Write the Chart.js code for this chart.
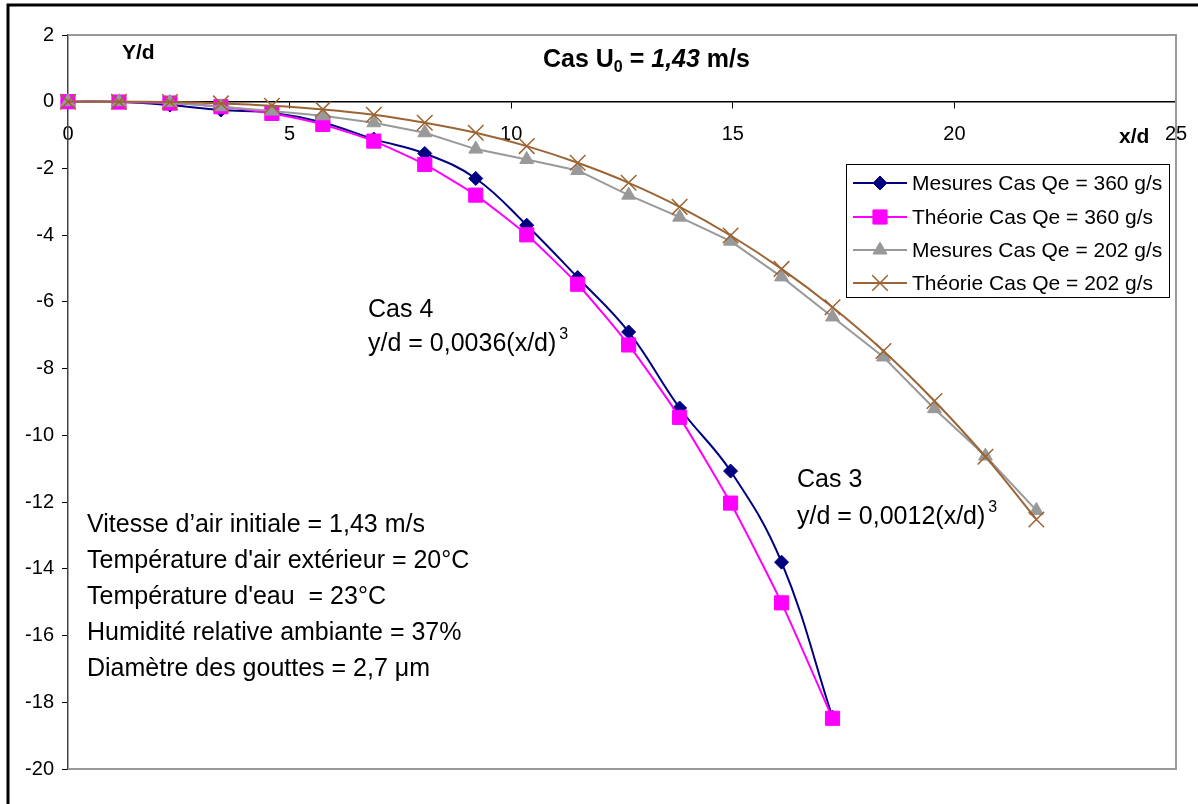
<!DOCTYPE html>
<html>
<head>
<meta charset="utf-8">
<script src="https://cdn.jsdelivr.net/npm/chart.js@4.4.0/dist/chart.umd.min.js"></script>
<style>
body{margin:0;background:#fff;}
canvas{display:block;}
</style>
</head>
<body>
<canvas id="trajChart" width="1198" height="804"></canvas>
<script>

const xPoints360 = [0, 1.15, 2.3, 3.45, 4.6, 5.75, 6.9, 8.05, 9.2, 10.35, 11.5, 12.65, 13.8, 14.95, 16.1, 17.25];
const xPoints202 = [0, 1.15, 2.3, 3.45, 4.6, 5.75, 6.9, 8.05, 9.2, 10.35, 11.5, 12.65, 13.8, 14.95, 16.1, 17.25, 18.4, 19.55, 20.7, 21.85];

const mesures360 = [0, 0, -0.1, -0.25, -0.33, -0.62, -1.12, -1.55, -2.3, -3.7, -5.27, -6.9, -9.18, -11.07, -13.8, -18.45];
const theorie360 = [0, -0.01, -0.04, -0.15, -0.35, -0.68, -1.18, -1.88, -2.8, -3.99, -5.47, -7.29, -9.46, -12.03, -15.02, -18.48];
const mesures202 = [0, 0, -0.02, -0.15, -0.28, -0.42, -0.63, -0.93, -1.42, -1.73, -2.06, -2.8, -3.46, -4.18, -5.25, -6.45, -7.65, -9.2, -10.62, -12.25];
const theorie202 = [0, 0, -0.01, -0.05, -0.12, -0.23, -0.39, -0.63, -0.93, -1.33, -1.83, -2.43, -3.15, -4.01, -5.01, -6.16, -7.47, -8.97, -10.64, -12.52];

const seriesNames = [
    "Mesures Cas Qe = 360 g/s",
    "Théorie Cas Qe = 360 g/s",
    "Mesures Cas Qe = 202 g/s",
    "Théorie Cas Qe = 202 g/s"
];

const xTickMin = 0, xTickMax = 25, xTickStep = 5;
const yTickMin = -20, yTickMax = 2, yTickStep = 2;

const infoLines = [
    "Vitesse d\u2019air initiale = 1,43 m/s",
    "Température d'air extérieur = 20°C",
    "Température d'eau  = 23°C",
    "Humidité relative ambiante = 37%",
    "Diamètre des gouttes = 2,7 \u03bcm"
];

const FONT = "'Liberation Sans', Arial, sans-serif";

function toPoints(xs, ys){
    return ys.map((y, i) => ({x: xs[i], y: y}));
}

function drawMarker(ctx, ds, x, y){
    const opts = {
        pointStyle: ds.pointStyle,
        radius: ds.pointRadius,
        rotation: 0,
        borderWidth: ds.pointBorderWidth
    };
    ctx.save();
    ctx.fillStyle = ds.pointBackgroundColor;
    ctx.strokeStyle = ds.pointBorderColor;
    ctx.lineWidth = ds.pointBorderWidth;
    Chart.helpers.drawPoint(ctx, opts, x, y);
    ctx.restore();
}

const frameAndText = {
    id: "frameAndText",
    beforeDraw(chart){
        const ctx = chart.ctx;
        ctx.save();
        ctx.fillStyle = "#fff";
        ctx.fillRect(0, 0, chart.width, chart.height);
        ctx.strokeStyle = "#000";
        ctx.lineWidth = 3;
        ctx.strokeRect(8, 5, 1300, 900);
        ctx.restore();
    },
    beforeDatasetsDraw(chart){
        const ctx = chart.ctx;
        const a = chart.chartArea;
        ctx.save();
        ctx.strokeStyle = "#999";
        ctx.lineWidth = 2;
        ctx.beginPath();
        ctx.moveTo(a.left, a.top);
        ctx.lineTo(a.right, a.top);
        ctx.lineTo(a.right, a.bottom);
        ctx.lineTo(a.left, a.bottom);
        ctx.stroke();
        ctx.restore();
    },
    afterDraw(chart){
        const ctx = chart.ctx;
        ctx.save();
        ctx.fillStyle = "#000";
        ctx.textAlign = "left";

        // title with subscript
        ctx.textBaseline = "alphabetic";
        let x = 543;
        const base = 67;
        const parts = [
            ["Cas U", "bold 25px " + FONT, 0],
            ["0", "bold 16px " + FONT, 5],
            [" = ", "bold 25px " + FONT, 0],
            ["1,43", "italic bold 25px " + FONT, 0],
            [" m/s", "bold 25px " + FONT, 0]
        ];
        parts.forEach(p => {
            ctx.font = p[1];
            ctx.fillText(p[0], x, base + p[2]);
            x += ctx.measureText(p[0]).width;
        });

        ctx.textBaseline = "middle";
        ctx.font = "bold 21px " + FONT;
        ctx.fillText("Y/d", 122, 53);
        ctx.fillText("x/d", 1119, 137);

        ctx.font = "25px " + FONT;
        ctx.fillText("Cas 4", 368, 310);
        ctx.fillText("y/d = 0,0036(x/d)", 368, 344);
        let w = ctx.measureText("y/d = 0,0036(x/d)").width;
        ctx.font = "16px " + FONT;
        ctx.fillText("3", 368 + w + 3, 335);

        ctx.font = "25px " + FONT;
        ctx.fillText("Cas 3", 797, 480);
        ctx.fillText("y/d = 0,0012(x/d)", 797, 517);
        w = ctx.measureText("y/d = 0,0012(x/d)").width;
        ctx.font = "16px " + FONT;
        ctx.fillText("3", 797 + w + 3, 508);

        ctx.font = "25px " + FONT;
        infoLines.forEach((t, i) => {
            ctx.fillText(t, 87, 525 + i * 36);
        });

        // legend box
        ctx.fillStyle = "#fff";
        ctx.fillRect(846, 164, 323, 133);
        ctx.strokeStyle = "#000";
        ctx.lineWidth = 1;
        ctx.strokeRect(846.5, 164.5, 323, 133);
        const rows = [183, 217, 250, 283];
        chart.data.datasets.forEach((ds, i) => {
            const y = rows[i];
            ctx.strokeStyle = ds.borderColor;
            ctx.lineWidth = ds.borderWidth;
            ctx.beginPath();
            ctx.moveTo(853, y);
            ctx.lineTo(907, y);
            ctx.stroke();
            drawMarker(ctx, ds, 880, y);
            ctx.fillStyle = "#000";
            ctx.font = "21px " + FONT;
            ctx.textBaseline = "middle";
            ctx.fillText(ds.label, 912, y + 1);
        });
        ctx.restore();
    }
};

function makeDataset(label, xs, ys, color, style, radius, fill, tension, order){
    return {
        label: label,
        data: toPoints(xs, ys),
        borderColor: color,
        borderWidth: 2,
        pointStyle: style,
        pointRadius: radius,
        pointBackgroundColor: fill,
        pointBorderColor: color,
        pointBorderWidth: style === "crossRot" ? 1.5 : 1,
        tension: tension,
        clip: false,
        order: order
    };
}

function buildChart(){

    const ctx = document.getElementById("trajChart").getContext("2d");

    new Chart(ctx, {
        type: "line",
        data: {
            datasets: [
                makeDataset(seriesNames[0], xPoints360, mesures360, "#000080", "rectRot", 7, "#000080", 0.4, 4),
                makeDataset(seriesNames[1], xPoints360, theorie360, "#FF00FF", "rect", 10, "#FF00FF", 0.2, 3),
                makeDataset(seriesNames[2], xPoints202, mesures202, "#999999", "triangle", 8, "#999999", 0, 2),
                makeDataset(seriesNames[3], xPoints202, theorie202, "#9C6433", "crossRot", 11, "#9C6433", 0.3, 1)
            ]
        },
        options: {
            responsive: false,
            animation: false,
            devicePixelRatio: 1,
            layout: {
                padding: {left: 0, top: 35, right: 22, bottom: 35}
            },
            plugins: {
                legend: {display: false},
                tooltip: {enabled: false}
            },
            scales: {
                x: {
                    type: "linear",
                    position: {y: 0},
                    min: xTickMin,
                    max: xTickMax,
                    afterFit(scale){
                        scale.height = 0;
                        scale.paddingLeft = 0;
                        scale.paddingRight = 0;
                    },
                    ticks: {
                        stepSize: xTickStep,
                        color: "#000",
                        padding: 15,
                        font: {family: FONT, size: 20}
                    },
                    grid: {
                        drawOnChartArea: false,
                        tickLength: 6,
                        color: "#000"
                    },
                    border: {color: "#000", width: 1.5}
                },
                y: {
                    type: "linear",
                    min: yTickMin,
                    max: yTickMax,
                    afterFit(scale){
                        scale.width = 68;
                        scale.paddingTop = 0;
                        scale.paddingBottom = 0;
                    },
                    ticks: {
                        stepSize: yTickStep,
                        color: "#000",
                        padding: 8,
                        font: {family: FONT, size: 20}
                    },
                    grid: {
                        drawOnChartArea: false,
                        tickLength: 6,
                        color: "#000"
                    },
                    border: {color: "#444", width: 1.5}
                }
            }
        },
        plugins: [frameAndText]
    });

}

buildChart();

</script>
</body>
</html>
